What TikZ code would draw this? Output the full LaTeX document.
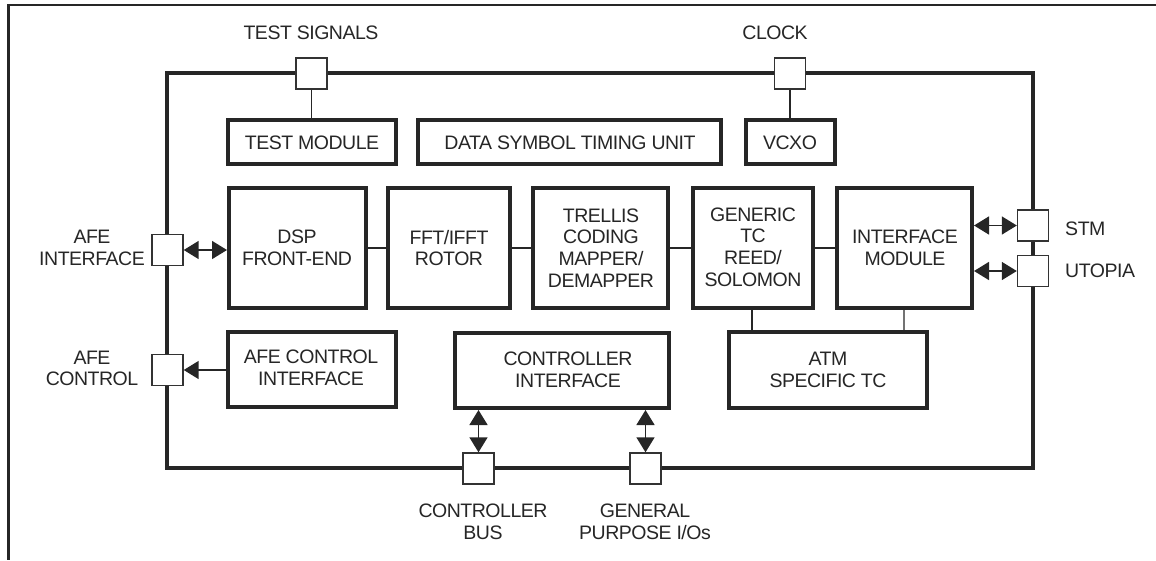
\documentclass[tikz,border=0pt]{standalone}
\usepackage{fontspec}
\setmainfont{Liberation Sans}[LetterSpace=-2.5]
\usetikzlibrary{arrows.meta}
\tikzset{
  x=1pt,y=-1pt,
  mainrect/.style={draw=black!85,line width=3.5pt,inner sep=0pt},
  heavy/.style={draw=black!85,line width=4pt,inner sep=0pt,fill=white},
  medium/.style={draw=black!85,line width=3.2pt,inner sep=0pt,fill=white},
  port/.style={draw=black!80,line width=1.4pt,fill=white,inner sep=0pt,minimum width=31pt,minimum height=31pt},
  txt/.style={font=\fontsize{19.5}{21.7}\selectfont,text=black!85,align=center,inner sep=0pt},
  link/.style={draw=black!85,line width=1.5pt},
  tip/.tip={Triangle[length=15pt,width=18pt]},
  both/.style={link,{tip}-{tip}},
  one/.style={link,{tip}-},
}
\newcommand{\blockbox}[6]{\node[#1,minimum width=#4pt-#3pt,minimum height=#6pt-#5pt] (#2) at ({(#3+#4)/2},{(#5+#6)/2}) {};}
\begin{document}
\begin{tikzpicture}
\useasboundingbox (0,0) rectangle (1156,560);
\draw[draw=black!85,line width=2.8pt] (1156,5) -- (8.5,5) -- (8.5,560);
\blockbox{mainrect}{chip}{167}{1033}{73}{468}

\blockbox{heavy}{tm}{228}{396}{120}{164}
\blockbox{heavy}{ds}{418}{721}{120}{164}
\blockbox{heavy}{vc}{746}{835}{120}{164}
\blockbox{heavy}{dsp}{229}{366}{188}{308}
\blockbox{heavy}{fft}{388}{510}{188}{308}
\blockbox{heavy}{tr}{533}{668}{188}{308}
\blockbox{heavy}{gen}{693}{813}{188}{308}
\blockbox{heavy}{ifm}{837}{972}{188}{308}
\blockbox{medium}{afc}{228}{396}{332}{407}
\blockbox{heavy}{ctl}{455}{669}{333}{408}
\blockbox{medium}{atm}{729}{927}{332}{408}

\node[port] (ptest) at (311.5,73.5) {};
\node[port] (pclk) at (790,73.5) {};
\node[port] (pafei) at (167.5,250) {};
\node[port] (pafec) at (167.5,370) {};
\node[port] (pstm) at (1033,225.5) {};
\node[port] (putp) at (1033,271) {};
\node[port] (pbus) at (478.5,468.5) {};
\node[port] (pgpio) at (645.5,468.5) {};

\draw[link] (dsp.east |- 0,248) -- (fft.west |- 0,248);
\draw[link] (fft.east |- 0,248) -- (tr.west |- 0,248);
\draw[link] (tr.east |- 0,248) -- (gen.west |- 0,248);
\draw[link] (gen.east |- 0,248) -- (ifm.west |- 0,248);
\draw[link] (ptest.south) -- (ptest.south |- tm.north);
\draw[link] (pclk.south) -- (pclk.south |- vc.north);
\draw[link] (752,310) coordinate (g1) -- (g1 |- atm.north);
\draw[link,draw=black!55] (904,310) coordinate (g2) -- (g2 |- atm.north);

\draw[both] (pafei.east) -- (pafei.east -| dsp.west);
\draw[one] (pafec.east) -- (pafec.east -| afc.west);
\draw[both] (pstm.west -| ifm.east) -- (pstm.west);
\draw[both] (putp.west -| ifm.east) -- (putp.west);
\draw[both] (pbus.north |- ctl.south) -- (pbus.north);
\draw[both] (pgpio.north |- ctl.south) -- (pgpio.north);

\node[txt] (ltest) at (311,33) {TEST SIGNALS};
\node[txt] (lclk) at (775,33) {CLOCK};
\node[txt] (ltm) at (312,143) {TEST MODULE};
\node[txt] (lds) at (570,143) {DATA SYMBOL TIMING UNIT};
\node[txt] (lvc) at (790,143) {VCXO};
\node[txt] (ldsp) at (297,248) {DSP\\FRONT-END};
\node[txt] (lfft) at (449,248) {FFT/IFFT\\ROTOR};
\node[txt] (ltr) at (601,248) {TRELLIS\\CODING\\MAPPER/\\DEMAPPER};
\node[txt] (lgen) at (753,247) {GENERIC\\TC\\REED/\\SOLOMON};
\node[txt] (lifm) at (905,248) {INTERFACE\\MODULE};
\node[txt] (lafc) at (311,368) {AFE CONTROL\\INTERFACE};
\node[txt] (lctl) at (568,370) {CONTROLLER\\INTERFACE};
\node[txt] (latm) at (828,370) {ATM\\SPECIFIC TC};
\node[txt] (lafi) at (92,248) {AFE\\INTERFACE};
\node[txt] (lafk) at (92,368.5) {AFE\\CONTROL};
\node[txt,anchor=west] (lstm) at (1065,229) {STM};
\node[txt,anchor=west] (lutp) at (1065,271) {UTOPIA};
\node[txt] (lbus) at (483,522) {CONTROLLER\\BUS};
\node[txt] (lgp) at (645,522) {GENERAL\\PURPOSE I/Os};
\end{tikzpicture}
\end{document}
